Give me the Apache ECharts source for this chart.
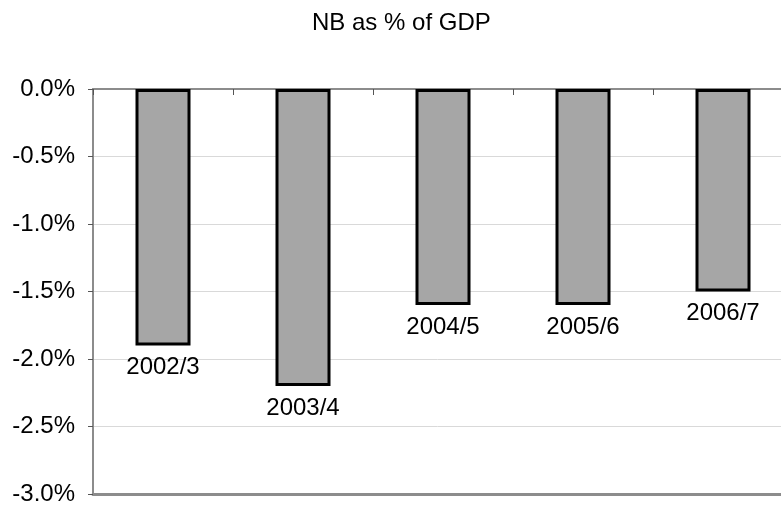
<!DOCTYPE html>
<html>
<head>
<meta charset="utf-8">
<script src="https://cdn.jsdelivr.net/npm/echarts@6/dist/echarts.min.js"></script>
<style>
  html, body { margin: 0; padding: 0; background: #ffffff; }
  #chart { width: 781px; height: 506px; }
</style>
</head>
<body>
<div id="chart"></div>
<script>
// Net borrowing as a share of GDP, by fiscal year
const years = ['2002/3', '2003/4', '2004/5', '2005/6', '2006/7'];
const nbShare = [-1.9, -2.2, -1.6, -1.6, -1.5];
const yTicks = { min: -3, max: 0, interval: 0.5 };

const FONT = '"Liberation Sans", Arial, sans-serif';

const chart = echarts.init(document.getElementById('chart'), null, { renderer: 'canvas' });

chart.setOption({
  animation: false,
  backgroundColor: '#ffffff',
  title: {
    text: 'NB as % of GDP',
    left: 307,
    top: 6,
    textStyle: { fontFamily: FONT, fontSize: 24, fontWeight: 'normal', color: '#000' }
  },
  grid: {
    left: 93,
    top: 89,
    right: -12,
    bottom: 12,
    outerBoundsMode: 'none',
    containLabel: false
  },
  xAxis: [
    {
      type: 'category',
      data: years,
      position: 'top',
      axisLine: { show: true, lineStyle: { color: '#8c8c8c', width: 2 } },
      axisTick: { show: true, inside: true, length: 6, alignWithLabel: false, lineStyle: { color: '#555', width: 1 } },
      axisLabel: { show: false },
      splitLine: { show: false }
    },
    {
      type: 'category',
      data: years,
      position: 'bottom',
      axisLine: { show: true, lineStyle: { color: '#8c8c8c', width: 3 } },
      axisTick: { show: false },
      axisLabel: { show: false },
      splitLine: { show: false }
    }
  ],
  yAxis: {
    type: 'value',
    min: yTicks.min,
    max: yTicks.max,
    interval: yTicks.interval,
    axisLine: { show: true, lineStyle: { color: '#8c8c8c', width: 2 } },
    axisTick: { show: true, inside: false, length: 5, lineStyle: { color: '#555', width: 1 } },
    axisLabel: {
      margin: 18,
      fontFamily: FONT,
      fontSize: 24,
      color: '#000',
      formatter: v => v.toFixed(1) + '%'
    },
    splitLine: { show: true, lineStyle: { color: '#d9d9d9', width: 1 } }
  },
  series: [{
    type: 'bar',
    xAxisIndex: 0,
    data: nbShare,
    barWidth: 55,
    itemStyle: { color: '#a6a6a6', borderColor: '#000', borderWidth: 3 },
    label: {
      show: true,
      position: 'bottom',
      distance: 10,
      formatter: '{b}',
      fontFamily: FONT,
      fontSize: 24,
      color: '#000'
    }
  }]
});
</script>
</body>
</html>
